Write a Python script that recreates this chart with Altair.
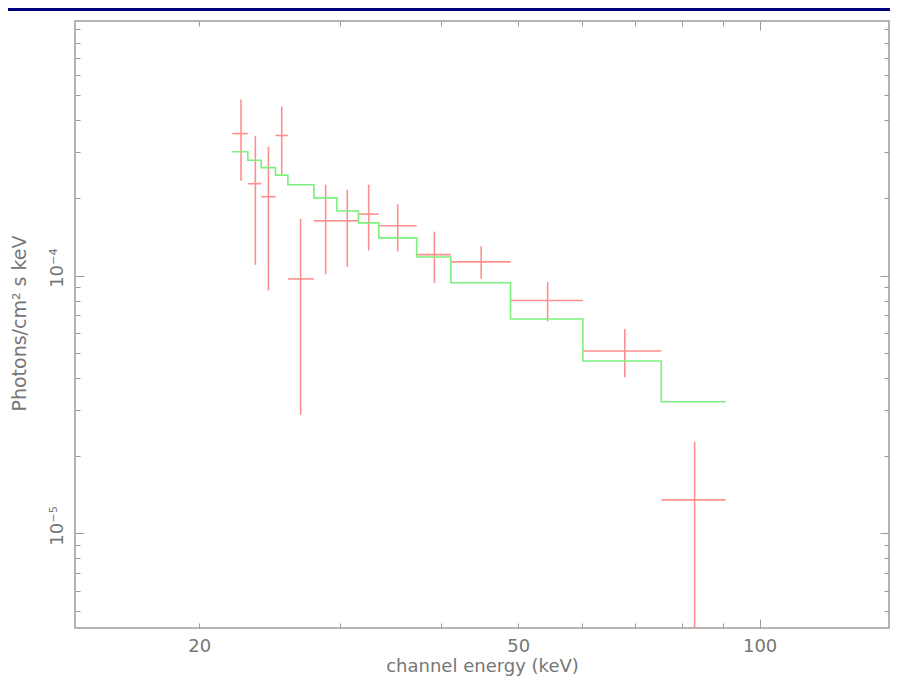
import altair as alt
import pandas as pd

# ---- data ----
# channel bin edges (keV)
edges = [22.0, 23.0, 23.9, 24.9, 25.8, 27.8, 29.7, 31.6, 33.5, 37.35, 41.2, 48.9, 60.2, 75.4, 90.7]
# data points (bin centres, flux, error bounds)
centers = [22.55, 23.5, 24.4, 25.35, 26.76, 28.76, 30.6, 32.54, 35.37, 39.3, 44.95, 54.4, 67.9, 82.97]
flux = [3.55e-4, 2.27e-4, 2.02e-4, 3.49e-4, 9.7e-5, 1.63e-4, 1.63e-4, 1.73e-4, 1.56e-4,
        1.205e-4, 1.13e-4, 8.0e-5, 5.1e-5, 1.35e-5]
flux_hi = [4.81e-4, 3.47e-4, 3.16e-4, 4.52e-4, 1.66e-4, 2.25e-4, 2.15e-4, 2.25e-4, 1.89e-4,
           1.48e-4, 1.30e-4, 9.42e-5, 6.20e-5, 2.27e-5]
flux_lo = [2.33e-4, 1.10e-4, 8.75e-5, 2.47e-4, 2.88e-5, 1.01e-4, 1.08e-4, 1.25e-4, 1.24e-4,
           9.34e-5, 9.71e-5, 6.64e-5, 4.03e-5, 3.0e-6]
# folded model (one value per bin)
model = [3.02e-4, 2.80e-4, 2.62e-4, 2.45e-4, 2.25e-4, 2.0e-4, 1.78e-4, 1.60e-4, 1.40e-4,
         1.18e-4, 9.37e-5, 6.78e-5, 4.66e-5, 3.24e-5]

# axis ticks / labels
x_ticks = [20, 30, 40, 50, 60, 70, 80, 90, 100]
x_labels = [20, 50, 100]
y_ticks = [5e-6, 6e-6, 7e-6, 8e-6, 9e-6,
           1e-5, 2e-5, 3e-5, 4e-5, 5e-5, 6e-5, 7e-5, 8e-5, 9e-5,
           1e-4, 2e-4, 3e-4, 4e-4, 5e-4, 6e-4, 7e-4, 8e-4, 9e-4]
y_labels = [1e-5, 1e-4]

# ---- tables ----
df = pd.DataFrame({"lo": edges[:-1], "hi": edges[1:], "E": centers,
                   "f": flux, "fhi": flux_hi, "flo": flux_lo})
df_model = pd.DataFrame({"E": edges, "m": model + [model[-1]]})

W, H = 814, 607
PADL = 67
GRAY = "#9c9c9c"
TXT = "#767676"
FONT = "DejaVu Sans"

XS = alt.Scale(type="log", domain=[14, 145], nice=False)
YS = alt.Scale(type="log", domain=[4.3e-6, 9.7e-4], nice=False)

x_major = {"condition": {"test": "datum.value == 100", "value": 9}, "value": 5}
y_major = {"condition": {"test": "datum.value == 0.0001 || datum.value == 0.00001", "value": 9}, "value": 5}

x_label_axis = alt.Axis(orient="bottom", values=x_labels, format="d", ticks=False, tickSize=0,
                        domain=False, grid=False, labelFont=FONT, labelFontSize=18,
                        labelColor=TXT, labelBaseline="alphabetic", labelPadding=23,
                        labelFlush=False, title="channel energy (keV)", titleFont=FONT,
                        titleFontSize=18, titleFontWeight="normal", titleColor=TXT,
                        titleX=W / 2, titleY=43, titleAlign="center", titleBaseline="alphabetic")
y_label_axis = alt.Axis(orient="left", values=y_labels, ticks=False, tickSize=0, domain=False,
                        grid=False, labelExpr="datum.value > 0.00005 ? '10⁻⁴' : '10⁻⁵'",
                        labelAngle=270, labelAlign="center", labelBaseline="alphabetic",
                        labelPadding=13, labelOffset=-8, labelFlush=False, labelFont=FONT,
                        labelFontSize=18, labelColor=TXT,
                        title="Photons/cm² s keV", titleFont=FONT, titleFontSize=19,
                        titleFontWeight="normal", titleColor=TXT, titleAngle=270,
                        titleX=-50, titleY=302, titleAlign="center", titleBaseline="alphabetic")


def tick_axis(orient, vals, size, offset):
    return alt.Axis(orient=orient, offset=offset, values=vals, labels=False, domain=False,
                    grid=False, ticks=True, tickSize=size, tickColor=GRAY, tickWidth=1,
                    title=None)


# top strip (slide decoration)
strip = alt.Chart(df.head(1)).mark_rect(color="#000080").encode(
    x=alt.value(-PADL), x2=alt.value(W + 1), y=alt.value(-13), y2=alt.value(-10))

hbars = alt.Chart(df).mark_rule(color="#ff8f8f", strokeWidth=1.6).encode(
    x=alt.X("lo:Q", scale=XS, axis=x_label_axis),
    x2="hi:Q",
    y=alt.Y("f:Q", scale=YS, axis=y_label_axis))

vbars = alt.Chart(df).mark_rule(color="#ff8f8f", strokeWidth=1.6, clip=True).encode(
    x=alt.X("E:Q", scale=XS, axis=None),
    y=alt.Y("flo:Q", scale=YS, axis=None),
    y2="fhi:Q")

mline = alt.Chart(df_model).mark_line(color="#7cef7c", strokeWidth=1.6,
                                      interpolate="step-after").encode(
    x=alt.X("E:Q", scale=XS, axis=None),
    y=alt.Y("m:Q", scale=YS, axis=None))

ticks_a = alt.Chart(df).mark_point(opacity=0).encode(
    x=alt.X("E:Q", scale=XS, axis=tick_axis("top", x_ticks, x_major, -H)),
    y=alt.Y("f:Q", scale=YS, axis=tick_axis("right", y_ticks, y_major, -W)))

ticks_b = alt.Chart(df).mark_point(opacity=0).encode(
    x=alt.X("E:Q", scale=XS, axis=tick_axis("bottom", x_ticks, x_major, -H)),
    y=alt.Y("f:Q", scale=YS, axis=tick_axis("left", y_ticks, y_major, -W)))

chart = alt.layer(strip, hbars, vbars, mline, ticks_a, ticks_b).resolve_axis(
    x="independent", y="independent"
).properties(
    width=W, height=H,
    autosize=alt.AutoSizeParams(type="none"),
    padding={"left": PADL, "top": 13, "right": 1, "bottom": 50},
    background="white",
).configure_view(stroke=GRAY, strokeWidth=1.5)

chart.save("out.html", embed_options={"renderer": "svg", "actions": False})
